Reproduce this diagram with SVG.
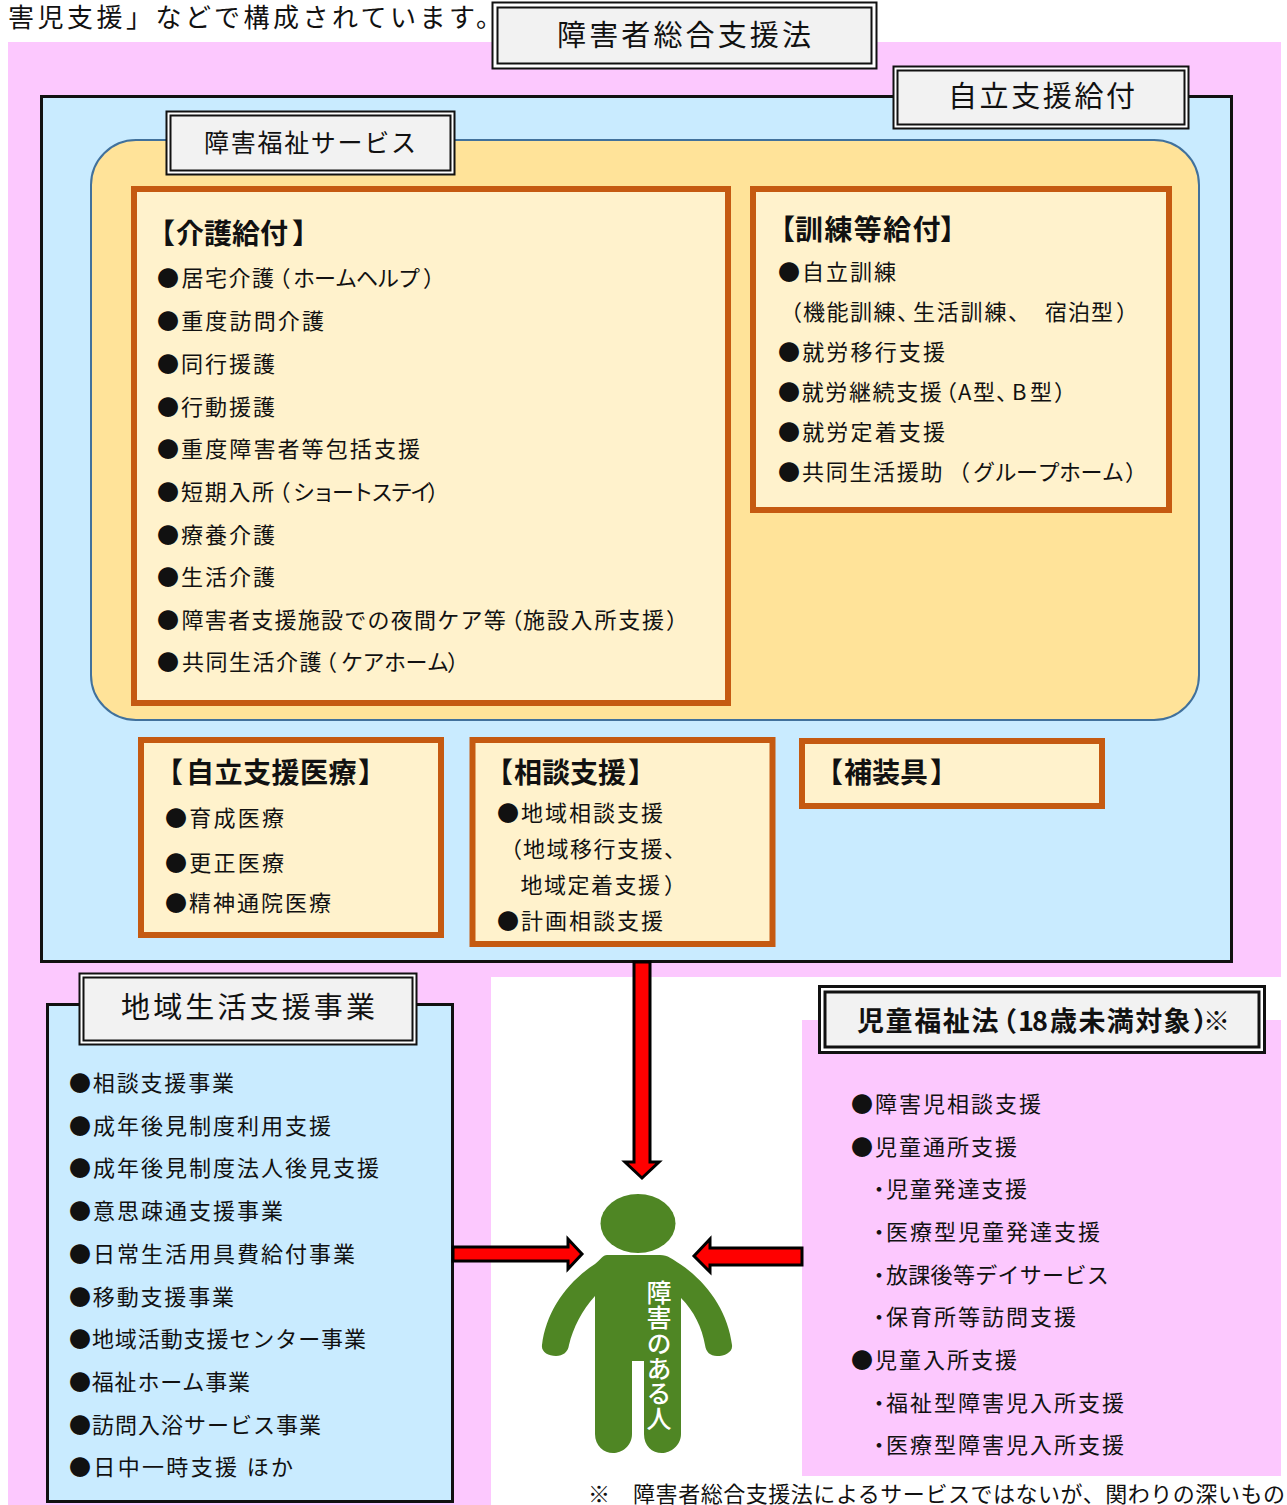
<svg xmlns="http://www.w3.org/2000/svg" width="1287" height="1505" viewBox="0 0 1287 1505">
<style>
text{font-family:"Noto Sans CJK JP","Noto Sans CJK SC",sans-serif;fill:#111}
.i{font-size:22px}
.h{font-size:28px;font-weight:700}
.t{font-size:29px}
.pk{fill:#fcc8fe}
.bl{fill:#c9ebff;stroke:#111;stroke-width:3}
.or{fill:#fff2cc;stroke:#c55a11;stroke-width:6}
.o{fill:#fff;stroke:#111;stroke-width:2}
.n{fill:#f2f2f2;stroke:#111;stroke-width:2}
.ar{fill:#f00;stroke:#000;stroke-width:3}
.w{fill:#fff;font-size:25px;font-weight:500;writing-mode:vertical-rl;letter-spacing:.3px}
</style>
<text x="8" y="27" font-size="26" textLength="494" lengthAdjust="spacing">害児支援」などで構成されています。</text>
<g id="bg">
<rect class="pk" x="8" y="42" width="1273" height="935"/>
<rect class="pk" x="8" y="977" width="483" height="528"/>
<rect class="pk" x="802" y="1020" width="479" height="456"/>
</g>
<g id="jiritsu">
<rect class="bl" x="41.500" y="96.500" width="1190" height="865"/>
<rect x="91" y="140" width="1108" height="580" rx="45" fill="#ffe399" stroke="#41719c" stroke-width="2"/>
</g>
<g id="kaigo">
<rect class="or" x="134" y="189" width="594" height="514"/>
<text class="h" x="147 176 204 232 260 292" y="244">【介護給付】</text>
<text class="i" x="157 181.500 205 228.500 252 268.500 293 314 335 356 377 398 423" y="286">●居宅介護（ホームヘルプ）</text>
<text class="i" x="157" y="329" textLength="167" lengthAdjust="spacing">●重度訪問介護</text>
<text class="i" x="157" y="372" textLength="118" lengthAdjust="spacing">●同行援護</text>
<text class="i" x="157" y="415" textLength="118" lengthAdjust="spacing">●行動援護</text>
<text class="i" x="157" y="457" textLength="263" lengthAdjust="spacing">●重度障害者等包括支援</text>
<text class="i" x="157 181 204.700 228.400 252 268.500 293 312.500 332 351.500 371 390.500 410 427" y="500">●短期入所（ショートステイ）</text>
<text class="i" x="157" y="543" textLength="118" lengthAdjust="spacing">●療養介護</text>
<text class="i" x="157" y="585" textLength="118" lengthAdjust="spacing">●生活介護</text>
<text class="i" x="157 181.400 204.700 227.900 251.200 274.400 297.700 321 344.200 367.500 390.700 414 437.300 460.500 483.800 500.500 523 546.800 570.600 594.400 618.200 642 666" y="628">●障害者支援施設での夜間ケア等（施設入所支援）</text>
<text class="i" x="157 182 205.500 229 252.500 276 299.500 315 341 362.500 384 405.500 427 447" y="670">●共同生活介護（ケアホーム）</text>
</g>
<g id="kunren">
<rect class="or" x="753" y="189" width="416" height="321"/>
<text class="h" x="767 795 824.400 853.800 883.200 912.600 940" y="240">【訓練等給付】</text>
<text class="i" x="778" y="280" textLength="118" lengthAdjust="spacing">●自立訓練</text>
<text class="i" x="780 803 826.500 850 873.500 897 913 936.800 960.600 984.400 1008 1028 1045 1068 1091 1116" y="320">（機能訓練、生活訓練、　宿泊型）</text>
<text class="i" x="778" y="360" textLength="167" lengthAdjust="spacing">●就労移行支援</text>
<text class="i" x="778 801.700 825.300 849 872.600 896.200 919.800 935 958 973 996 1012 1030 1054" y="400">●就労継続支援（A型、B型）</text>
<text class="i" x="778" y="440" textLength="167" lengthAdjust="spacing">●就労定着支援</text>
<text class="i" x="778 802 825.700 849.400 873 896.700 920.400 948 973 994.500 1016 1037.500 1059 1080.500 1102 1125" y="480">●共同生活援助（グループホーム）</text>
</g>
<g id="iryo">
<rect class="or" x="141" y="740" width="300" height="195"/>
<text class="h" x="155 186 214.500 243 271.500 300 328.500 358" y="783">【自立支援医療】</text>
<text class="i" x="165" y="826" textLength="119" lengthAdjust="spacing">●育成医療</text>
<text class="i" x="165" y="871" textLength="119" lengthAdjust="spacing">●更正医療</text>
<text class="i" x="165" y="911" textLength="166" lengthAdjust="spacing">●精神通院医療</text>
</g>
<g id="sodan">
<rect class="or" x="472.500" y="740" width="300" height="204"/>
<text class="h" x="485 514 542 570 598 628" y="783">【相談支援】</text>
<text class="i" x="497" y="821" textLength="166" lengthAdjust="spacing">●地域相談支援</text>
<text class="i" x="500 523 546.500 570 593.500 617 640.500 664" y="857">（地域移行支援、</text>
<text class="i" x="520.400 543.900 567.400 590.900 614.400 637.900 664" y="893">地域定着支援）</text>
<text class="i" x="497" y="929" textLength="166" lengthAdjust="spacing">●計画相談支援</text>
</g>
<g id="hosogu">
<rect class="or" x="802" y="741" width="300" height="65"/>
<text class="h" x="815 844 872 900 930" y="783">【補装具】</text>
</g>
<g id="title-sogo">
<rect class="o" x="492.500" y="2.500" width="384" height="66"/>
<rect class="n" x="497.500" y="7.500" width="374" height="56"/>
<text class="t" x="557" y="46" textLength="254" lengthAdjust="spacing">障害者総合支援法</text>
</g>
<g id="title-jiritsu">
<rect class="o" x="893.500" y="66.500" width="295" height="62"/>
<rect class="n" x="897.500" y="70.500" width="287" height="54"/>
<text class="t" x="948" y="107" textLength="187" lengthAdjust="spacing">自立支援給付</text>
</g>
<g id="title-fukushi">
<rect class="o" x="166.500" y="111.500" width="288" height="63"/>
<rect class="n" x="170.500" y="115.500" width="280" height="55"/>
<text x="204" y="152" font-size="25" textLength="212" lengthAdjust="spacing">障害福祉サービス</text>
</g>
<g id="chiiki">
<rect class="bl" x="47.500" y="1004.500" width="405" height="497"/>
<rect class="o" x="79.500" y="973.500" width="337" height="71"/>
<rect class="n" x="83.500" y="977.500" width="329" height="63"/>
<text class="t" x="121" y="1018" textLength="254" lengthAdjust="spacing">地域生活支援事業</text>
<text class="i" x="69" y="1091" textLength="165" lengthAdjust="spacing">●相談支援事業</text>
<text class="i" x="69" y="1134" textLength="262" lengthAdjust="spacing">●成年後見制度利用支援</text>
<text class="i" x="69" y="1176" textLength="310" lengthAdjust="spacing">●成年後見制度法人後見支援</text>
<text class="i" x="69" y="1219" textLength="214" lengthAdjust="spacing">●意思疎通支援事業</text>
<text class="i" x="69" y="1262" textLength="286" lengthAdjust="spacing">●日常生活用具費給付事業</text>
<text class="i" x="69" y="1305" textLength="165" lengthAdjust="spacing">●移動支援事業</text>
<text class="i" x="69" y="1347" textLength="297" lengthAdjust="spacing">●地域活動支援センター事業</text>
<text class="i" x="69" y="1390" textLength="181" lengthAdjust="spacing">●福祉ホーム事業</text>
<text class="i" x="69" y="1433" textLength="252" lengthAdjust="spacing">●訪問入浴サービス事業</text>
<text class="i" x="69" y="1475" textLength="224" lengthAdjust="spacing">●日中一時支援 ほか</text>
</g>
<g id="jido">
<rect x="819.500" y="986.500" width="445" height="66" fill="#fff" stroke="#111" stroke-width="3"/>
<rect x="825" y="992" width="434" height="55" fill="#f2f2f2" stroke="#111" stroke-width="3"/>
<text x="857 885.600 914.200 942.800 971.400 990 1018 1032 1050 1078.400 1106.800 1135.200 1163.600 1193 1203" y="1031" font-size="27" font-weight="700">児童福祉法（18歳未満対象）※</text>
<text class="i" x="851" y="1112" textLength="190" lengthAdjust="spacing">●障害児相談支援</text>
<text class="i" x="851" y="1155" textLength="166" lengthAdjust="spacing">●児童通所支援</text>
<text class="i" x="868 886" y="1197" letter-spacing="1.800">・児童発達支援</text>
<text class="i" x="868 886" y="1240" letter-spacing="2">・医療型児童発達支援</text>
<text class="i" x="868 886" y="1283" letter-spacing=".3">・放課後等デイサービス</text>
<text class="i" x="868 886" y="1325" letter-spacing="2">・保育所等訪問支援</text>
<text class="i" x="851" y="1368" textLength="166" lengthAdjust="spacing">●児童入所支援</text>
<text class="i" x="868 886" y="1411" letter-spacing="2">・福祉型障害児入所支援</text>
<text class="i" x="868 886" y="1453" letter-spacing="2">・医療型障害児入所支援</text>
</g>
<text x="588" y="1502" font-size="22" textLength="697" lengthAdjust="spacing">※　障害者総合支援法によるサービスではないが、関わりの深いもの</text>
<g id="person">
<ellipse cx="638" cy="1223.500" rx="37.500" ry="29.500" fill="#4f8624"/>
<path d="M607 1255H660C668 1255 672 1259 680 1264C708 1283 728 1312 732 1345C733 1352 725 1356 717 1356C710 1356 706 1352 705 1345C702 1328 694 1311 681 1298V1434C681 1446 670 1453 662 1453C652 1453 644 1446 644 1434V1361H632V1434C632 1446 622 1453 613 1453C604 1453 595 1446 595 1434V1296C582 1310 573 1328 569 1345C568 1352 563 1356 556 1356C548 1356 541 1352 542 1345C546 1312 566 1283 595 1264C600 1260 603 1255 607 1255Z" fill="#4f8624"/>
<text class="w" x="659" y="1280">障害のある人</text>
</g>
<g id="connectors">
<path class="ar" d="M634 962V1162H625L642 1178L659 1162H650V962Z"/>
<path class="ar" d="M453 1247H568V1239L582 1254L568 1269V1261H453Z"/>
<path class="ar" d="M802 1248H710V1239L694 1256L710 1272V1265H802Z"/>
</g>
</svg>
